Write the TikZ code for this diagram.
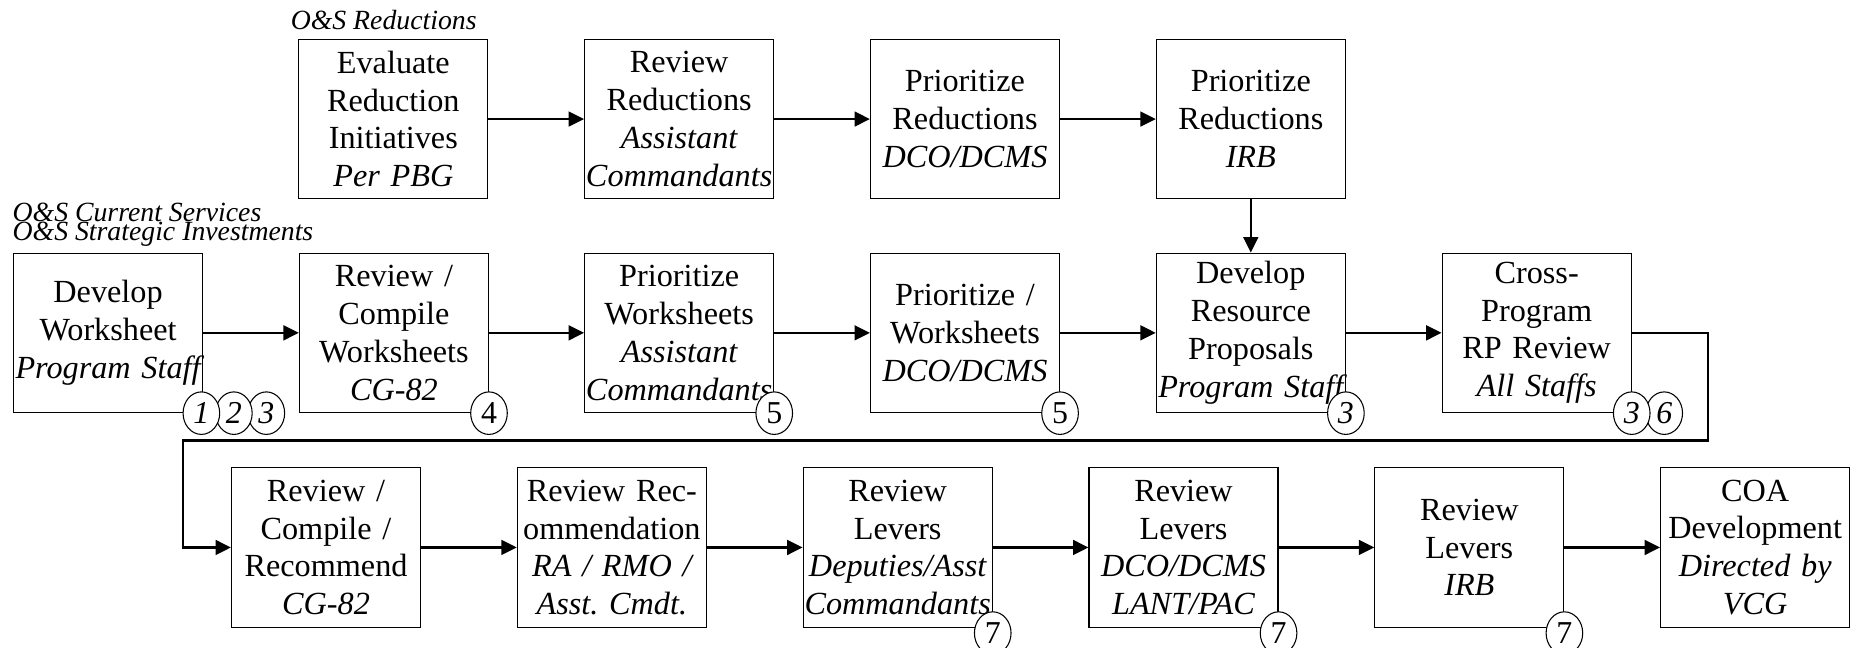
\documentclass[tikz,border=0pt]{standalone}
\usepackage{fontspec}
\setmainfont{Liberation Serif}
\usetikzlibrary{arrows.meta,shapes.geometric}
% one unbreakable line of a box, italic for the responsible office
\newcommand{\who}[1]{\mbox{\itshape #1}}
\newcommand{\oneline}[1]{\mbox{#1}}
\begin{document}
\begin{tikzpicture}[x=1pt,y=-1pt,
  stepbox/.style={draw, line width=1pt, minimum width=160pt, minimum height=135pt,
    text width=160pt, inner sep=0pt, align=center,
    font=\fontsize{27.3}{32}\selectfont},
  conn/.style={line width=1.9pt, -{Triangle[length=13pt,width=12.5pt]}},
  tag/.style={ellipse, draw, fill=white, line width=0.9pt, minimum width=31pt,
    minimum height=36pt, inner sep=0pt, font=\fontsize{27}{27}\selectfont},
  lbl/.style={font=\fontsize{23.5}{23.5}\selectfont\itshape, inner sep=0pt, anchor=base west},
]
\useasboundingbox (0,0) rectangle (1568,548);

% group labels
\node[lbl] (lred) at (246,25.4) {O\&S Reductions};
\node[lbl] (lcur) at (10.5,187.7) {O\&S Current Services};
\node[lbl] (lstr) at (10.5,203.8) {O\&S Strategic Investments};

% reductions track
\node[stepbox] (a1) at (333,100.8) {Evaluate\\Reduction\\Initiatives\\\who{Per PBG}};
\node[stepbox] (a2) at (575,100.8) {Review\\Reductions\\\who{Assistant}\\\who{Commandants}};
\node[stepbox] (a3) at (817,100.8) {Prioritize\\Reductions\\\who{DCO/DCMS}};
\node[stepbox] (a4) at (1059,100.8) {Prioritize\\Reductions\\\who{IRB}};

% worksheet track
\node[stepbox] (b1) at (91.5,281.8) {Develop\\Worksheet\\\who{Program Staff}};
\node[stepbox] (b2) at (333.5,281.8) {Review /\\Compile\\Worksheets\\\who{CG-82}};
\node[stepbox] (b3) at (575,281.8) {Prioritize\\Worksheets\\\who{Assistant}\\\who{Commandants}};
\node[stepbox] (b4) at (817,281.8) {Prioritize /\\Worksheets\\\who{DCO/DCMS}};
\node[stepbox] (b5) at (1059,281.8) {Develop\\Resource\\Proposals\\\who{Program Staff}};
\node[stepbox] (b6) at (1301,281.8) {Cross-\\Program\\\oneline{RP Review}\\\who{All Staffs}};

% review track
\node[stepbox] (c1) at (276,463.5) {Review /\\Compile /\\Recommend\\\who{CG-82}};
\node[stepbox] (c2) at (518,463.5) {\oneline{Review Rec-}\\ommendation\\\who{RA / RMO /}\\\who{Asst.\ Cmdt.}};
\node[stepbox] (c3) at (760,463.5) {Review\\Levers\\\who{Deputies/Asst}\\\who{Commandants}};
\node[stepbox] (c4) at (1002,463.5) {Review\\Levers\\\who{DCO/DCMS}\\\who{LANT/PAC}};
\node[stepbox] (c5) at (1244,463.5) {Review\\Levers\\\who{IRB}};
\node[stepbox] (c6) at (1486,463.5) {COA\\Development\\\who{Directed by}\\\who{VCG}};

% connectors
\draw[conn] (a1) -- (a2);
\draw[conn] (a2) -- (a3);
\draw[conn] (a3) -- (a4);
\draw[conn] (a4) -- (b5);
\draw[conn] (b1) -- (b2);
\draw[conn] (b2) -- (b3);
\draw[conn] (b3) -- (b4);
\draw[conn] (b4) -- (b5);
\draw[conn] (b5) -- (b6);
\coordinate (fbR) at (1446,373);
\coordinate (fbL) at (155,373);
\draw[conn] (b6.east) -| (fbR) -- (fbL) |- (c1.west);
\draw[conn] (c1) -- (c2);
\draw[conn] (c2) -- (c3);
\draw[conn] (c3) -- (c4);
\draw[conn] (c4) -- (c5);
\draw[conn] (c5) -- (c6);

% numbered markers
\node[tag, xshift=53.5pt] (t13) at (b1.south east) {\itshape 3};
\node[tag, xshift=26pt] (t12) at (b1.south east) {\itshape 2};
\node[tag, xshift=-1.5pt] (t11) at (b1.south east) {\itshape 1};
\node[tag] (t2) at (b2.south east) {4};
\node[tag] (t3) at (b3.south east) {5};
\node[tag] (t4) at (b4.south east) {5};
\node[tag] (t5) at (b5.south east) {\itshape 3};
\node[tag, xshift=27.5pt] (t62) at (b6.south east) {\itshape 6};
\node[tag] (t61) at (b6.south east) {\itshape 3};
\node[tag, yshift=-4.5pt] (u3) at (c3.south east) {7};
\node[tag, yshift=-4.5pt] (u4) at (c4.south east) {7};
\node[tag, yshift=-4.5pt] (u5) at (c5.south east) {7};
\end{tikzpicture}
\end{document}
